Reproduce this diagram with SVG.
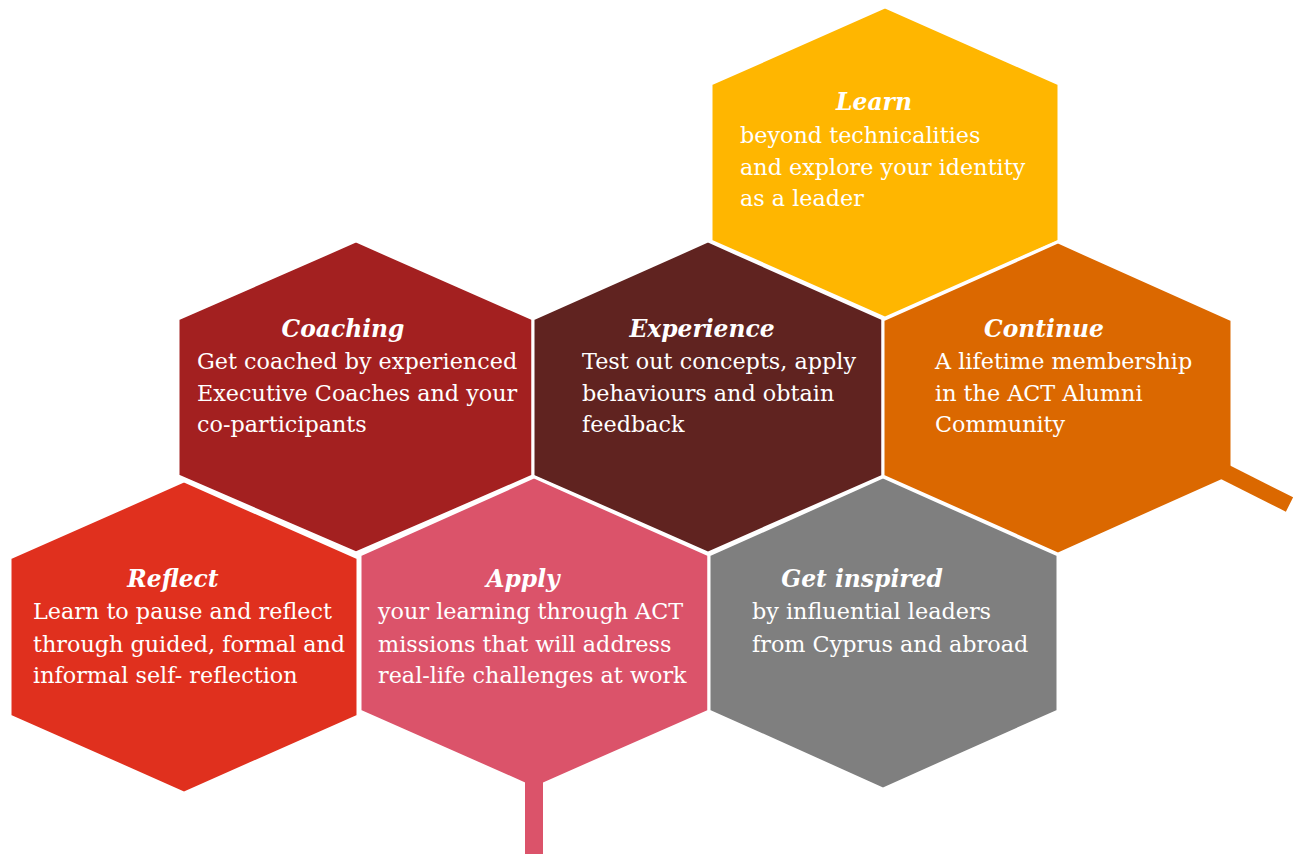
<svg xmlns="http://www.w3.org/2000/svg" width="1298" height="854" viewBox="0 0 1298 854">
<style>
.hex{stroke:#fff;stroke-width:3;stroke-linejoin:miter}
.t{font-family:"DejaVu Serif","Liberation Serif",serif;fill:#fff;font-size:22.3px}
.h{font-weight:bold;font-style:italic;font-size:23.4px}
</style>
<rect width="1298" height="854" fill="#fff"/>
<g id="connectors">
<rect x="525" y="782" width="18" height="72" fill="#DB536A"/>
</g>
<g id="learn">
<polygon class="hex" fill="#FFB600" points="885,7 1059,84 1059,241 885,318 711,241 711,84"/>
<text class="t h" x="874" y="110" text-anchor="middle">Learn</text>
<text class="t" x="740" y="143">beyond technicalities</text>
<text class="t" x="740" y="175">and explore your identity</text>
<text class="t" x="740" y="206">as a leader</text>
</g>
<g id="coaching">
<polygon class="hex" fill="#A32020" points="356,241 533,319 533,476 356,553 178,476 178,319"/>
<text class="t h" x="343" y="337" text-anchor="middle">Coaching</text>
<text class="t" x="197" y="369">Get coached by experienced</text>
<text class="t" x="197" y="401">Executive Coaches and your</text>
<text class="t" x="197" y="432">co-participants</text>
</g>
<g id="experience">
<polygon class="hex" fill="#602320" points="708,241 883,319 883,476 708,553 533,476 533,319"/>
<text class="t h" x="702" y="337" text-anchor="middle">Experience</text>
<text class="t" x="582" y="369">Test out concepts, apply</text>
<text class="t" x="582" y="401">behaviours and obtain</text>
<text class="t" x="582" y="432">feedback</text>
</g>
<g id="continue">
<polygon class="hex" fill="#DB6800" points="1058,242 1232,320 1232,476 1058,554 883,476 883,320"/>
<text class="t h" x="1044" y="337" text-anchor="middle">Continue</text>
<text class="t" x="935" y="369">A lifetime membership</text>
<text class="t" x="935" y="401">in the ACT Alumni</text>
<text class="t" x="935" y="432">Community</text>
<line x1="1221" y1="470" x2="1289.5" y2="504.5" stroke="#DB6800" stroke-width="16"/>
</g>
<g id="reflect">
<polygon class="hex" fill="#E0301E" points="184,481 358,558 358,716 184,793 10,716 10,558"/>
<text class="t h" x="173" y="587" text-anchor="middle">Reflect</text>
<text class="t" x="33" y="619">Learn to pause and reflect</text>
<text class="t" x="33" y="652">through guided, formal and</text>
<text class="t" x="33" y="683">informal self- reflection</text>
</g>
<g id="apply">
<polygon class="hex" fill="#DB536A" points="534,477 709,555 709,711 534,788 360,711 360,555"/>
<rect x="525" y="782" width="18" height="8" fill="#DB536A"/>
<text class="t h" x="523" y="587" text-anchor="middle">Apply</text>
<text class="t" x="378" y="619">your learning through ACT</text>
<text class="t" x="378" y="652">missions that will address</text>
<text class="t" x="378" y="683">real-life challenges at work</text>
</g>
<g id="get-inspired">
<polygon class="hex" fill="#7F7F7F" points="883,477 1058,555 1058,711 883,789 709,711 709,555"/>
<text class="t h" x="862" y="587" text-anchor="middle">Get inspired</text>
<text class="t" x="752" y="619">by influential leaders</text>
<text class="t" x="752" y="652">from Cyprus and abroad</text>
</g>
</svg>
